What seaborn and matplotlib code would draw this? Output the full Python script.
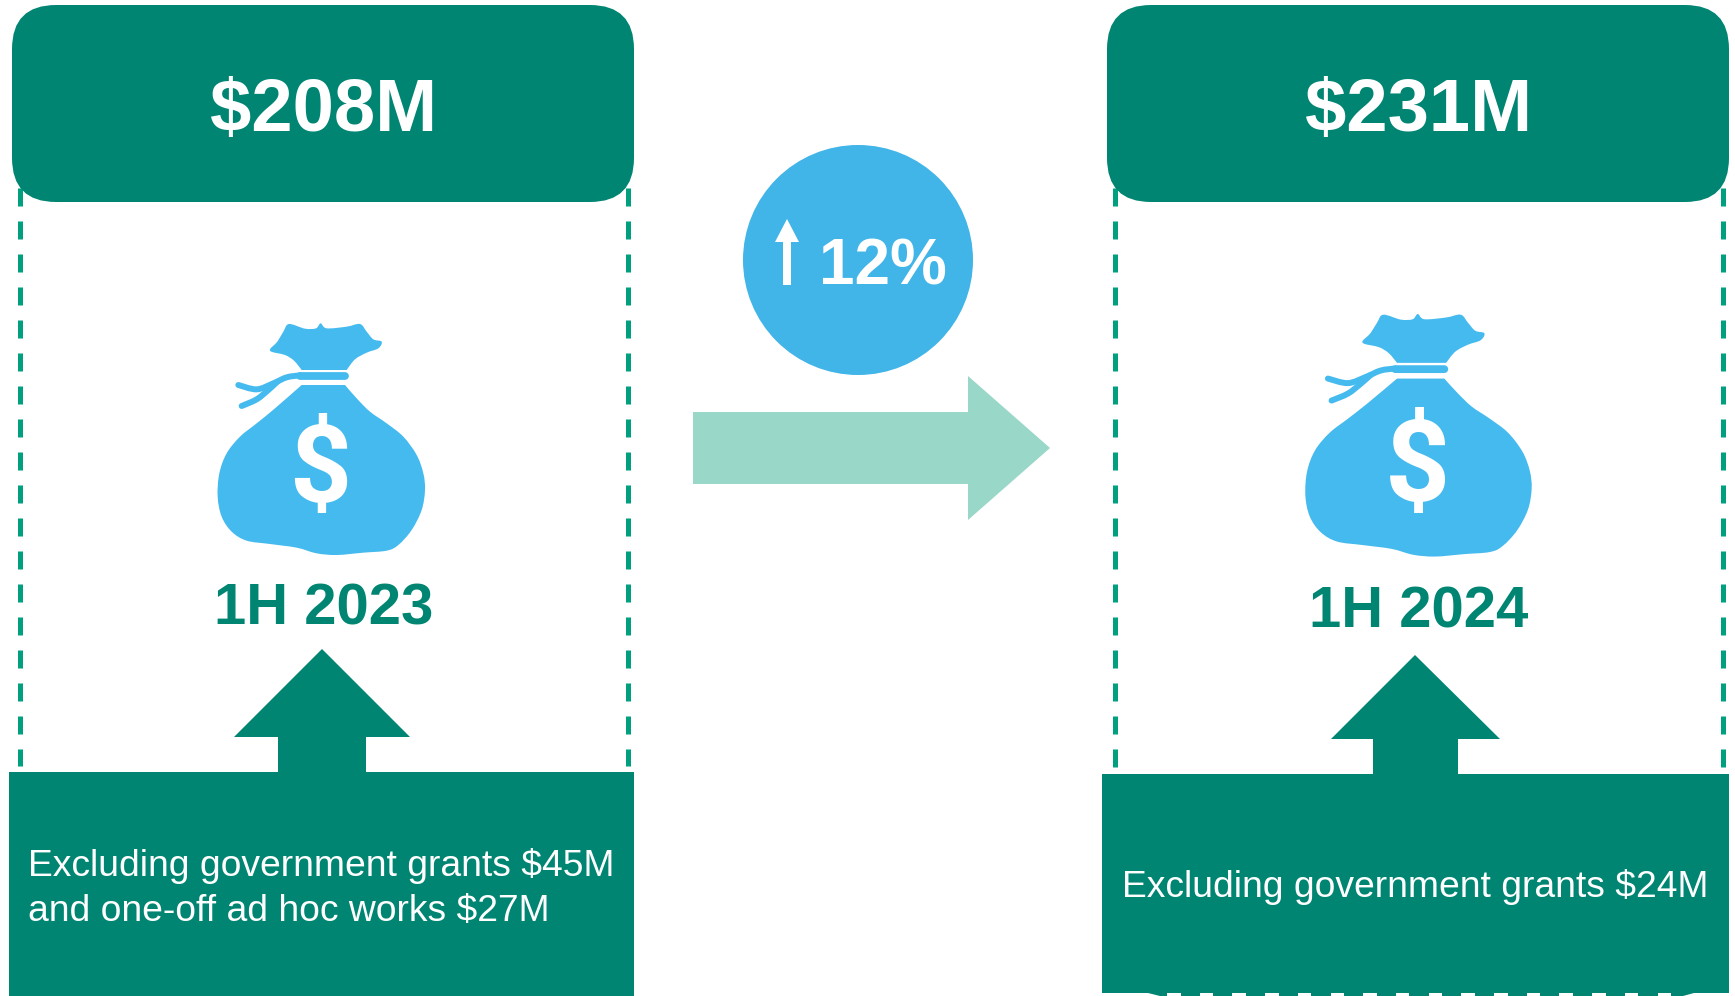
import numpy as np
import pandas as pd
import matplotlib
matplotlib.use('Agg')
import matplotlib.pyplot as plt
import seaborn as sns
from matplotlib.patches import Circle, FancyBboxPatch, PathPatch, Polygon, Rectangle
from matplotlib.path import Path

# Textos do gráfico
amounts = ['$208M', '$231M']
periods = ['1H 2023', '1H 2024']
notes = ['Excluding government grants $45M\nand one-off ad hoc works $27M',
         'Excluding government grants $24M']
growth = '12%'

GREEN = '#008573'
DASH = '#00A07F'
BLUE = '#41B4E8'
BAG = '#44BAEF'
MINT = '#99D7C8'

# Contorno do saco de dinheiro (coordenadas do recorte de 810 px)
BODY = [(465, 255), (500, 295), (540, 335), (590, 370), (640, 410), (680, 465), (700, 520), (705, 570),
        (695, 630), (665, 690), (625, 735), (590, 752), (520, 758), (440, 765), (380, 760), (320, 743),
        (240, 732), (170, 722), (125, 695), (95, 650), (83, 590), (88, 520), (110, 460), (150, 410),
        (200, 370), (255, 325), (335, 255)]
TOP = [(335, 210), (312, 182), (285, 165), (240, 152), (262, 125), (280, 95), (297, 72), (345, 86),
       (378, 85), (392, 70), (410, 85), (470, 80), (510, 72), (530, 95), (550, 118), (575, 125),
       (565, 145), (530, 158), (495, 178), (470, 210)]
BAND = [(465, 228), (330, 228)]
STRAP_A = [(330, 226), (290, 232), (250, 250), (200, 268), (145, 255)]
STRAP_B = [(262, 245), (235, 270), (200, 298), (155, 318)]


def smooth_path(points, close=False):
    # Catmull-Rom aberto; close=True fecha com uma reta, mantendo os cantos vivos
    pts = np.array(points, dtype=float)
    n = len(pts)
    verts = [pts[0]]
    codes = [Path.MOVETO]
    for i in range(n - 1):
        p0, p1, p2, p3 = pts[max(i - 1, 0)], pts[i], pts[i + 1], pts[min(i + 2, n - 1)]
        verts += [p1 + (p2 - p0) / 6, p2 - (p3 - p1) / 6, p2]
        codes += [Path.CURVE4] * 3
    if close:
        verts.append(pts[0])
        codes.append(Path.CLOSEPOLY)
    return Path(np.array(verts), codes)


def draw_bag(ax, x0, y0, sx, sy, dollar_size):
    to_px = lambda pts: [(x0 + px * sx, y0 + py * sy) for px, py in pts]
    ax.add_patch(PathPatch(smooth_path(to_px(BODY), close=True), fc=BAG, ec='none', zorder=3))
    ax.add_patch(PathPatch(smooth_path(to_px(TOP), close=True), fc=BAG, ec='none', zorder=3))
    ax.add_patch(PathPatch(smooth_path(to_px(BAND)), fc='none', ec=BAG, lw=5.6, capstyle='round', zorder=3))
    for strap in (STRAP_A, STRAP_B):
        ax.add_patch(PathPatch(smooth_path(to_px(strap)), fc='none', ec=BAG,
                               lw=4.3, capstyle='round', zorder=3))
    ax.text(x0 + 392 * sx, y0 + 516 * sy, '$', color='white', fontsize=dollar_size, fontweight='bold',
            family='Roboto', ha='center', va='center', zorder=4)


def draw_panel(ax, box_x, dash_x, bottom_x, bottom_y, arrow, amount, period, period_y, note, note_x, note_y):
    for x in dash_x:
        data = pd.DataFrame({'x': [x, x], 'y': [188, bottom_y - 6]})
        sns.lineplot(data=data, x='x', y='y', ax=ax, color=DASH, lw=3.6, estimator=None, sort=False,
                     linestyle=(0, (3.6, 3.0)), dash_capstyle='butt', zorder=1)
    ax.add_patch(FancyBboxPatch((box_x[0] + 44, 5 + 44), box_x[1] - box_x[0] - 88, 197 - 88,
                                boxstyle='round,pad=44,rounding_size=44', fc=GREEN, ec='none', zorder=2))
    ax.text(sum(box_x) / 2 + 1, 111.5, amount, color='white', fontsize=53.5, fontweight='bold',
            ha='center', va='center', zorder=3)
    ax.text(sum(box_x) / 2 + 0.5, period_y, period, color=GREEN, fontsize=41.8, fontweight='bold',
            ha='center', va='center', zorder=3)
    ax.add_patch(Polygon(arrow, closed=True, fc=GREEN, ec='none', zorder=2))
    ax.add_patch(Rectangle((bottom_x[0], bottom_y), bottom_x[1] - bottom_x[0], 996 - bottom_y,
                           fc=GREEN, ec='none', zorder=2))
    ax.text(note_x, note_y, note, color='white', fontsize=26.8, ha='left', va='center',
            linespacing=1.35, zorder=3)


sns.set_theme(style='white')
plt.rcParams['font.family'] = ['Liberation Sans', 'DejaVu Sans']

fig = plt.figure(figsize=(17.35, 9.96), dpi=100)
ax = fig.add_axes([0, 0, 1, 1])

draw_panel(ax, (12, 634), (20, 628), (9, 634), 772,
           [(322, 649), (410, 737), (366, 737), (366, 773), (278, 773), (278, 737), (234, 737)],
           amounts[0], periods[0], 609.5, notes[0], 28, 888.5)
draw_panel(ax, (1107, 1729), (1115, 1723), (1102, 1729), 774,
           [(1415, 655), (1500, 739), (1458, 739), (1458, 775), (1373, 775), (1373, 739), (1331, 739)],
           amounts[1], periods[1], 612.5, notes[1], 1122, 886.5)

# Topos brancos de um texto cortado na borda inferior do quadro direito
ax.add_patch(Polygon([(1102, 993), (1148, 993), (1160, 996), (1102, 996)], closed=True, fc='white', ec='none', zorder=3))
ax.add_patch(Polygon([(1694, 993), (1729, 993), (1729, 996), (1683, 996)], closed=True, fc='white', ec='none', zorder=3))
for k in range(16):
    ax.add_patch(Rectangle((1167 + 32.7 * k, 993), 13.5, 3, fc='white', ec='none', zorder=3))

draw_bag(ax, 190, 300, 1 / 3, 1 / 3, 78)
draw_bag(ax, 1305 - 82 * 0.3638, 314 - 70 * 0.349, 0.3638, 0.349, 82)

# Seta central e círculo de crescimento
ax.add_patch(Polygon([(693, 412), (968, 412), (968, 376), (1050, 448), (968, 520), (968, 484), (693, 484)],
                     closed=True, fc=MINT, ec='none', zorder=2))
ax.add_patch(Circle((858, 260), 115, fc=BLUE, ec='none', zorder=3))
ax.add_patch(Polygon([(787, 219), (799, 242), (791, 242), (791, 285), (783, 285), (783, 242), (775, 242)],
                     closed=True, fc='white', ec='none', zorder=4))
ax.text(882.5, 267.5, growth, color='white', fontsize=46, fontweight='bold', ha='center', va='center', zorder=4)

ax.set_xlim(0, 1735)
ax.set_ylim(996, 0)
ax.axis('off')

plt.savefig('out.png', dpi=100)
plt.close()
